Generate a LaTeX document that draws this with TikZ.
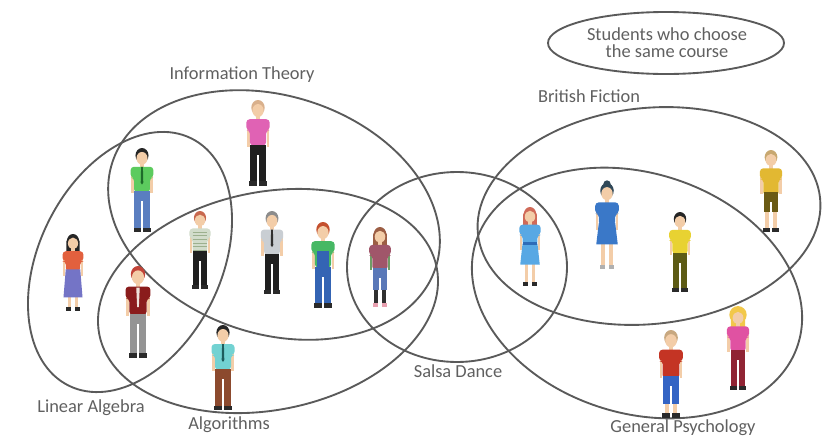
\documentclass[tikz,border=0pt]{standalone}
\usepackage{fontspec}
\setmainfont{Carlito}

\definecolor{ringgray}{HTML}{5A5A5A}
\definecolor{labelgray}{HTML}{606060}
\definecolor{skin}{HTML}{F3CDA8}
\definecolor{shoe}{HTML}{2A2A2A}
% hair
\definecolor{hairpale}{HTML}{D9B08C}
\definecolor{hairblack}{HTML}{262626}
\definecolor{hairred}{HTML}{C8684E}
\definecolor{hairgrey}{HTML}{8C8C8C}
\definecolor{hairginger}{HTML}{C4502E}
\definecolor{hairbrown}{HTML}{9C5E44}
\definecolor{haircopper}{HTML}{C24438}
\definecolor{haircoral}{HTML}{D06A58}
\definecolor{hairnavy}{HTML}{304858}
\definecolor{hairsand}{HTML}{C8A870}
\definecolor{hairfair}{HTML}{C8A880}
\definecolor{hairblonde}{HTML}{F2C84A}
% clothes
\definecolor{pinkshirt}{HTML}{E062B4}
\definecolor{greenshirt}{HTML}{5CCB5E}
\definecolor{greentie}{HTML}{1E6B2A}
\definecolor{jeans}{HTML}{5A7EC0}
\definecolor{stripebase}{HTML}{D2DCCB}
\definecolor{stripeline}{HTML}{9CB08E}
\definecolor{suitgrey}{HTML}{C9CED3}
\definecolor{darktie}{HTML}{303030}
\definecolor{grassgreen}{HTML}{46B864}
\definecolor{overallblue}{HTML}{3464B4}
\definecolor{sleevegreen}{HTML}{6E9C66}
\definecolor{mauve}{HTML}{A0566A}
\definecolor{shortsblue}{HTML}{5A78B8}
\definecolor{leggings}{HTML}{303030}
\definecolor{pinkshoe}{HTML}{E8A0B0}
\definecolor{coraltop}{HTML}{E2603E}
\definecolor{purpleskirt}{HTML}{7474C6}
\definecolor{vestred}{HTML}{8A1C1C}
\definecolor{cream}{HTML}{EFE3DA}
\definecolor{slacks}{HTML}{949494}
\definecolor{cyanshirt}{HTML}{72D2D2}
\definecolor{tealtie}{HTML}{1E5C5C}
\definecolor{brownpants}{HTML}{8C4A2E}
\definecolor{skyblue}{HTML}{58A8E4}
\definecolor{beltblue}{HTML}{2E6CB8}
\definecolor{dressblue}{HTML}{3A78C8}
\definecolor{silver}{HTML}{B0B0B0}
\definecolor{yellowshirt}{HTML}{E8D232}
\definecolor{olive}{HTML}{5C5A14}
\definecolor{mustard}{HTML}{E2B832}
\definecolor{oliveshorts}{HTML}{6A5A14}
\definecolor{redshirt}{HTML}{C43424}
\definecolor{denim}{HTML}{3464C4}
\definecolor{pinktop}{HTML}{E052A2}
\definecolor{maroon}{HTML}{902434}

\tikzset{
  ring/.style={draw=ringgray, line width=1.4pt},
  tag/.style={text=labelgray, font=\fontsize{13.8}{13}\selectfont, inner sep=0pt},
}

% ---- building blocks of a standing figure (local height 85, top at y=0) ----
\newcommand{\figat}[3]{\pgfmathsetmacro{\figscale}{#3/85}\begin{scope}[shift={(#1,#2)}, scale=\figscale]}
\newcommand{\hairlong}[1]{\fill[#1, rounded corners=3] (-7.4,4) rectangle (7.4,25);}
\newcommand{\headpart}[1]{%
  \fill[skin] (-2,14) rectangle (2,20);
  \fill[#1] (0,7.5) ellipse [x radius=6.6, y radius=7.5];
  \fill[skin] (0,10.4) ellipse [x radius=5.6, y radius=6.4];}
\newcommand{\armspart}[1]{\fill[#1] (-11,28) rectangle (-8.4,46); \fill[#1] (8.4,28) rectangle (11,46);}
\newcommand{\shirtpart}[2]{\fill[#1, rounded corners=2.5] (-11.5,19) -- (11.5,19) -- (11.5,30) -- (8,30) -- (8,#2) -- (-8,#2) -- (-8,30) -- (-11.5,30) -- cycle;}
\newcommand{\trousers}[1]{\fill[#1] (-7.6,44) rectangle (7.6,54); \fill[#1] (-7.6,53) rectangle (-0.6,81); \fill[#1] (0.6,53) rectangle (7.6,81);}
\newcommand{\shortpants}[3]{% colour, hem, leg colour
  \fill[#3] (-6.2,58) rectangle (-1.8,81); \fill[#3] (1.8,58) rectangle (6.2,81);
  \fill[#1] (-7.6,44) rectangle (7.6,54); \fill[#1] (-7.6,53) rectangle (-0.6,#2); \fill[#1] (0.6,53) rectangle (7.6,#2);}
\newcommand{\skirt}[2]{% colour, hem
  \fill[skin] (-5.6,55) rectangle (-2.4,81); \fill[skin] (2.4,55) rectangle (5.6,81);
  \fill[#1] (-8,39) -- (8,39) -- (10.5,#2) -- (-10.5,#2) -- cycle;}
\newcommand{\shoes}{\fill[shoe] (-8.6,80.5) rectangle (-0.6,85); \fill[shoe] (0.6,80.5) rectangle (8.6,85);}
\newcommand{\flats}[1]{\fill[#1] (-7.2,80.5) rectangle (-1.8,84.5); \fill[#1] (1.8,80.5) rectangle (7.2,84.5);}
\newcommand{\necktie}[1]{\fill[#1] (-0.9,19) -- (0.9,19) -- (1.3,35) -- (0,37) -- (-1.3,35) -- cycle;}

\begin{document}
\begin{tikzpicture}[x=0.75pt, y=-0.75pt]
\useasboundingbox (0,0) rectangle (823,443);
\fill[white] (0,0) rectangle (823,443);

% ---- course rings ----
\draw[ring, rotate around={-18:(274,215)}] (274,215) ellipse [x radius=170, y radius=119];
\draw[ring, rotate around={63.6:(130,262)}] (130,262) ellipse [x radius=138, y radius=91];
\draw[ring, rotate around={11.3:(268,301)}] (268,301) ellipse [x radius=172, y radius=109];
\draw[ring] (457,267) ellipse [x radius=110, y radius=95];
\draw[ring, rotate around={6:(649,216)}] (649,216) ellipse [x radius=172, y radius=108];
\draw[ring, rotate around={-17.7:(637,293)}] (637,293) ellipse [x radius=169, y radius=120];

% ---- legend ----
\draw[ring] (666,43) ellipse [x radius=118, y radius=31];
\node[tag, align=center] (legend) at (667,43) {Students who choose\\the same course};

% ---- course names ----
\node[tag] (lblinfo) at (242,75) {Information Theory};
\node[tag] (lbllin) at (91,408) {Linear Algebra};
\node[tag] (lblalg) at (229,425) {Algorithms};
\node[tag] (lblsalsa) at (458,371) {Salsa Dance};
\node[tag] (lblbrit) at (589,96) {British Fiction};
\node[tag] (lblpsy) at (683,428) {General Psychology};

% ---- students ----
% pink shirt
\figat{258}{100}{86}
  \armspart{skin}\headpart{hairpale}\shirtpart{pinkshirt}{45}\trousers{black!88}\shoes
\end{scope}
% green shirt, jeans
\figat{142}{148}{84}
  \armspart{skin}\headpart{hairblack}\shirtpart{greenshirt}{45}\necktie{greentie}\trousers{jeans}\shoes
\end{scope}
% striped top
\figat{200}{211}{78}
  \armspart{skin}\headpart{hairred}\shirtpart{stripebase}{45}
  \foreach \yy in {23,27,...,43} {\draw[stripeline, line width=0.9pt] (-8,\yy) -- (8,\yy);}
  \trousers{black!88}\shoes
\end{scope}
% grey suit
\figat{272}{211}{83}
  \armspart{skin}\headpart{hairgrey}\shirtpart{suitgrey}{45}\necktie{darktie}\trousers{black!88}\shoes
\end{scope}
% overalls
\figat{323}{222}{86}
  \armspart{skin}\headpart{hairginger}\shirtpart{grassgreen}{45}
  \fill[overallblue] (-6,29) rectangle (6,46);
  \trousers{overallblue}\shoes
\end{scope}
% salsa dancer
\figat{380}{227}{80}
  \hairlong{hairbrown}\armspart{sleevegreen}\headpart{hairbrown}\shirtpart{mauve}{46}
  \shortpants{shortsblue}{67}{leggings}\flats{pinkshoe}
\end{scope}
% purple skirt
\figat{73}{234}{77}
  \hairlong{hairblack}\armspart{skin}\headpart{hairblack}\shirtpart{coraltop}{41}\skirt{purpleskirt}{70}\flats{shoe}
\end{scope}
% red waistcoat
\figat{138}{266}{92}
  \armspart{skin}\headpart{haircopper}\shirtpart{vestred}{45}
  \fill[cream] (-1.6,20) -- (1.6,20) -- (0.8,38) -- (-0.8,38) -- cycle;
  \trousers{slacks}\shoes
\end{scope}
% cyan shirt
\figat{223}{325}{85}
  \armspart{skin}\headpart{hairblack}\shirtpart{cyanshirt}{45}\necktie{tealtie}\trousers{brownpants}\shoes
\end{scope}
% red hair, light blue dress
\figat{530}{207}{79}
  \hairlong{haircoral}\armspart{skin}\headpart{haircoral}\shirtpart{skyblue}{41}\skirt{skyblue}{62}
  \fill[beltblue] (-8,38) rectangle (8,41);\flats{shoe}
\end{scope}
% dark hair bun, blue dress
\figat{607}{183}{87}
  \fill[hairnavy] (0,1) circle [radius=3.6];
  \armspart{skin}\headpart{hairnavy}\shirtpart{dressblue}{41}\skirt{dressblue}{60}\flats{silver}
\end{scope}
% yellow shirt
\figat{680}{212}{80}
  \armspart{skin}\headpart{hairblack}\shirtpart{yellowshirt}{45}\trousers{olive}\shoes
\end{scope}
% mustard shirt, shorts
\figat{771}{150}{82}
  \armspart{skin}\headpart{hairsand}\shirtpart{mustard}{47}\shortpants{oliveshorts}{64}{skin}\shoes
\end{scope}
% red shirt, blue trousers
\figat{671}{330}{88}
  \armspart{skin}\headpart{hairfair}\shirtpart{redshirt}{47}\shortpants{denim}{71}{skin}\shoes
\end{scope}
% blonde
\figat{738}{308}{82}
  \hairlong{hairblonde}\armspart{skin}
  \fill[hairblonde] (0,7) ellipse [x radius=9, y radius=9];
  \headpart{hairblonde}\shirtpart{pinktop}{45}\trousers{maroon}\shoes
\end{scope}
\end{tikzpicture}
\end{document}
